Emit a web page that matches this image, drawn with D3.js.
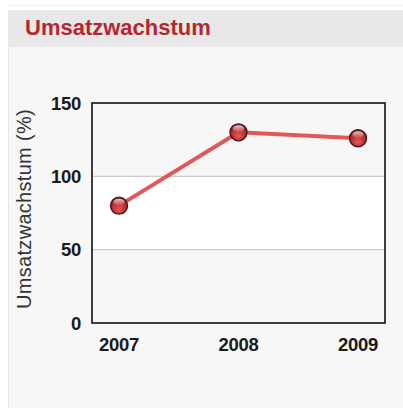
<!DOCTYPE html>
<html>
<head>
<meta charset="utf-8">
<script src="https://cdn.jsdelivr.net/npm/d3@7"></script>
<style>
  body { margin: 0; background: #fff; font-family: "Liberation Sans", Arial, sans-serif; }
</style>
</head>
<body>
<div id="graph"></div>
<script>
const width = 403;
const height = 408;

// chart data
const years = ["2007", "2008", "2009"];
const growth = [80, 130, 126];
const yTicks = [0, 50, 100, 150];
const titleText = "Umsatzwachstum";
const yLabel = "Umsatzwachstum (%)";

const plot = { left: 92, right: 385, top: 103, bottom: 323 };

const svg = d3.select("#graph")
  .append("svg")
  .attr("width", width)
  .attr("height", height)
  .style("display", "block");

// panel + header
svg.append("line")
  .attr("x1", 8).attr("x2", width)
  .attr("y1", 5.5).attr("y2", 5.5)
  .attr("stroke", "#ececec");
svg.append("rect")
  .attr("x", 8).attr("y", 47)
  .attr("width", width - 8).attr("height", height - 47)
  .attr("fill", "#f7f7f7");
svg.append("line")
  .attr("x1", 8.5).attr("x2", 8.5)
  .attr("y1", 47).attr("y2", height)
  .attr("stroke", "#e6e6e6");
svg.append("rect")
  .attr("x", 8).attr("y", 10)
  .attr("width", width - 8).attr("height", 37)
  .attr("fill", "#e8e8e8");
svg.append("text")
  .attr("x", 25).attr("y", 35)
  .attr("fill", "#b5262e")
  .style("font-size", "22px")
  .style("font-weight", "bold")
  .text(titleText);

const x = d3.scalePoint()
  .domain(years)
  .range([plot.left, plot.right])
  .padding(0.226);

const y = d3.scaleLinear()
  .domain([0, 150])
  .range([plot.bottom, plot.top]);

// alternating bands: the 50-100 band is white
svg.append("rect")
  .attr("x", plot.left).attr("y", y(100))
  .attr("width", plot.right - plot.left)
  .attr("height", y(50) - y(100))
  .attr("fill", "#ffffff");

// gridlines
svg.selectAll(".grid")
  .data(yTicks.filter(t => t > 0 && t < 150))
  .enter().append("line")
  .attr("x1", plot.left).attr("x2", plot.right)
  .attr("y1", d => y(d)).attr("y2", d => y(d))
  .attr("stroke", "#cccccc")
  .attr("stroke-width", 1.2);

// frame
svg.append("rect")
  .attr("x", plot.left).attr("y", plot.top)
  .attr("width", plot.right - plot.left)
  .attr("height", plot.bottom - plot.top)
  .attr("fill", "none")
  .attr("stroke", "#111")
  .attr("stroke-width", 1.6);

// tick labels
const labelStyle = sel => sel
  .attr("fill", "#1a1a1a")
  .style("font-size", "18.5px")
  .style("font-weight", "bold")
  .style("letter-spacing", "-0.3px");

svg.selectAll(".ylab")
  .data(yTicks)
  .enter().append("text")
  .attr("x", 81)
  .attr("y", d => y(d))
  .attr("dy", "0.36em")
  .attr("text-anchor", "end")
  .call(labelStyle)
  .text(d => d);

svg.selectAll(".xlab")
  .data(years)
  .enter().append("text")
  .attr("x", d => x(d))
  .attr("y", 351)
  .attr("text-anchor", "middle")
  .call(labelStyle)
  .text(d => d);

svg.append("text")
  .attr("transform", `translate(31, 209) rotate(-90)`)
  .attr("text-anchor", "middle")
  .attr("fill", "#333")
  .style("font-size", "20px")
  .style("letter-spacing", "0.3px")
  .text(yLabel);

// line
const pts = years.map((yr, i) => ({ year: yr, value: growth[i] }));

svg.append("path")
  .datum(pts)
  .attr("d", d3.line().x(d => x(d.year)).y(d => y(d.value)))
  .attr("fill", "none")
  .attr("stroke", "#e04a4a")
  .attr("stroke-width", 4)
  .attr("stroke-opacity", 0.92);

// glossy markers
const defs = svg.append("defs");
const grad = defs.append("radialGradient")
  .attr("id", "ball")
  .attr("cx", "50%").attr("cy", "60%").attr("r", "60%")
  .attr("fx", "50%").attr("fy", "75%");
grad.append("stop").attr("offset", "0%").attr("stop-color", "#e65a5a");
grad.append("stop").attr("offset", "70%").attr("stop-color", "#b52a2e");
grad.append("stop").attr("offset", "100%").attr("stop-color", "#7a1a1e");

const shine = defs.append("linearGradient")
  .attr("id", "shine")
  .attr("x1", 0).attr("y1", 0).attr("x2", 0).attr("y2", 1);
shine.append("stop").attr("offset", "0%").attr("stop-color", "#fff").attr("stop-opacity", 0.75);
shine.append("stop").attr("offset", "100%").attr("stop-color", "#fff").attr("stop-opacity", 0.05);

const marks = svg.selectAll(".mark")
  .data(pts)
  .enter().append("g")
  .attr("transform", d => `translate(${x(d.year)},${y(d.value)})`);

marks.append("circle")
  .attr("r", 8.5)
  .attr("fill", "url(#ball)")
  .attr("stroke", "#4a1518")
  .attr("stroke-width", 1.4);

marks.append("ellipse")
  .attr("cx", 0).attr("cy", -3.6)
  .attr("rx", 5.6).attr("ry", 3.4)
  .attr("fill", "url(#shine)");
</script>
</body>
</html>
